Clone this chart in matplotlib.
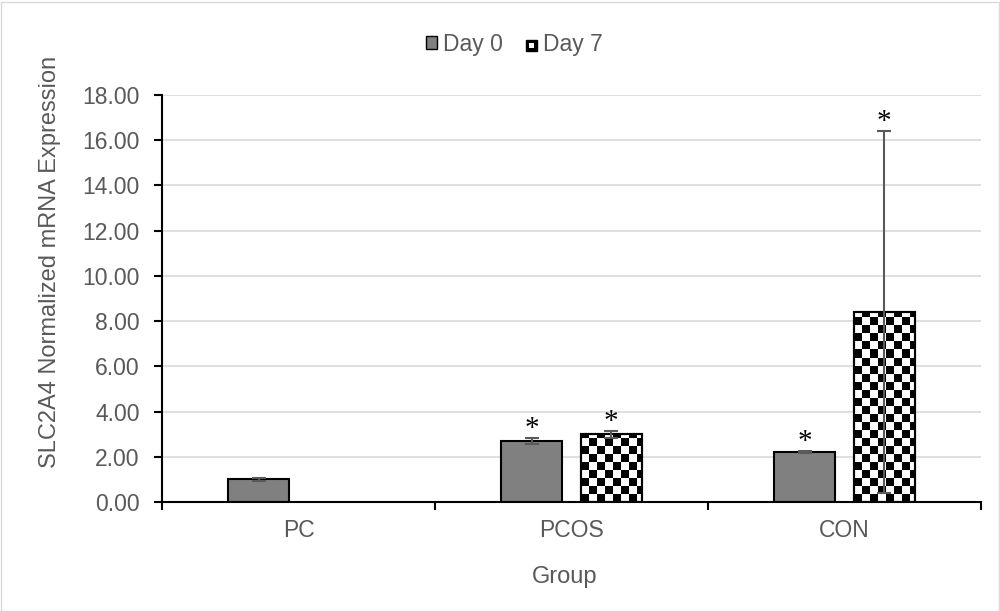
#!/usr/bin/env python3
"""SLC2A4 normalized mRNA expression, Day 0 vs Day 7 by group"""
import numpy as np
import matplotlib; matplotlib.use("Agg")
import matplotlib.pyplot as plt
from matplotlib.patches import Patch, Rectangle
from matplotlib.collections import PatchCollection
from matplotlib.legend_handler import HandlerPatch

plt.rcParams["font.family"] = ["Liberation Sans", "DejaVu Sans"]

groups = ["PC", "PCOS", "CON"]
day0 = [1.00, 2.70, 2.20]
day0_err = [0.05, 0.15, 0.05]
day7 = [np.nan, 3.00, 8.40]
day7_err = [np.nan, 0.15, 8.00]
day0_sig = [False, True, True]
day7_sig = [False, True, True]
yticks = np.arange(0, 18.01, 2)

TXT = "#595959"
W, H = 1000, 611
FS = 16.5


class CheckerHandler(HandlerPatch):
    def create_artists(self, legend, orig, xd, yd, width, height, fontsize, trans):
        s = min(width, height)
        x0 = xd + (width - s) / 2
        y0 = yd + (height - s) / 2
        outer = Rectangle((x0, y0), s, s, facecolor="black", edgecolor="black", lw=1, transform=trans)
        inner = Rectangle((x0 + s * 0.3, y0 + s * 0.3), s * 0.4, s * 0.45, facecolor="white",
                          edgecolor="none", transform=trans)
        return [outer, inner]


def checker_fill(ax, bar, cw, ch):
    x0, w, h = bar.get_x(), bar.get_width(), bar.get_height()
    if not np.isfinite(h) or h <= 0:
        return
    nx = int(np.ceil(w / cw))
    ny = int(np.ceil(h / ch))
    cells = [Rectangle((x0 + i * cw, j * ch), cw, ch)
             for j in range(ny) for i in range(nx) if (i + j) % 2 == 0]
    pc = PatchCollection(cells, facecolor="black", edgecolor="none", zorder=2.1, antialiased=False)
    ax.add_collection(pc)
    pc.set_clip_path(bar)


def main():
    fig = plt.figure(figsize=(W / 100, H / 100), dpi=100)
    ax = fig.add_axes([162 / W, 1 - 502 / H, 819 / W, 407 / H])
    fig.patches.append(Rectangle((0.5 / W, 0.5 / H), 1 - 2 / W, 1 - 2 / H, transform=fig.transFigure,
                                 facecolor="none", edgecolor="#d9d9d9", lw=1))

    x = np.arange(len(groups))
    bw, off = 0.224, 0.145
    ax.bar(x - off, day0, bw, color="#808080", edgecolor="black", lw=1.5, zorder=2)
    b7 = ax.bar(x + off, day7, bw, color="white", edgecolor="black", lw=1.5, zorder=2)

    cw = 0.0293
    ch = 0.355
    for bar in b7:
        checker_fill(ax, bar, cw, ch)
    # redraw outline over the pattern
    ax.bar(x + off, day7, bw, color="none", edgecolor="black", lw=1.5, zorder=2.5)

    ekw = dict(fmt="none", ecolor=TXT, elinewidth=1.5, capsize=5, capthick=1.5, zorder=3)
    ax.errorbar(x - off, day0, yerr=day0_err, **ekw)
    ax.errorbar(x + off, day7, yerr=day7_err, **ekw)

    for xs, vals, errs, sig in [(x - off, day0, day0_err, day0_sig), (x + off, day7, day7_err, day7_sig)]:
        for xi, v, e, s in zip(xs, vals, errs, sig):
            if s:
                ax.annotate("*", (xi, v + e), xytext=(0, -3), textcoords="offset points", ha="center",
                            va="bottom", fontsize=21, family="Liberation Serif", color="black")

    ax.set_xlim(-0.5, 2.5)
    ax.set_ylim(0, 18)
    ax.set_yticks(yticks)
    ax.set_yticklabels([f"{v:.2f}" for v in yticks])
    ax.set_xticks(x)
    ax.set_xticklabels(groups)
    ax.set_xticks(np.arange(-0.5, 2.6, 1), minor=True)
    ax.tick_params(axis="x", which="major", length=0, pad=12, labelsize=FS, labelcolor=TXT)
    ax.tick_params(axis="x", which="minor", length=6, width=1.5, direction="out", color="black")
    ax.tick_params(axis="y", length=6, width=1.5, direction="out", color="black", labelsize=FS,
                   labelcolor=TXT, pad=10)
    ax.grid(axis="y", color="#d9d9d9", lw=1.2, zorder=0)
    ax.set_axisbelow(True)
    for sp in ["top", "right"]:
        ax.spines[sp].set_visible(False)
    for sp in ["left", "bottom"]:
        ax.spines[sp].set_linewidth(1.5)
        ax.spines[sp].set_color("black")

    fig.text(565 / W, 1 - 577 / H, "Group", ha="center", va="center", fontsize=17, color=TXT)
    fig.text(50 / W, 1 - 262 / H, "SLC2A4 Normalized mRNA Expression", rotation=90, ha="center",
             va="center", fontsize=17, color=TXT)

    handles = [Patch(facecolor="#808080", edgecolor="black", lw=1), Patch(facecolor="black")]
    fig.legend(handles, ["Day 0", "Day 7"], loc="center", bbox_to_anchor=(514 / W, 1 - 44 / H),
               ncol=2, frameon=False, fontsize=FS, handlelength=0.5, handleheight=0.5,
               handletextpad=0.25, columnspacing=1.0, labelcolor=TXT,
               handler_map={handles[1]: CheckerHandler()})

    fig.savefig("out.png", dpi=100)
    plt.close(fig)


if __name__ == "__main__":
    main()
